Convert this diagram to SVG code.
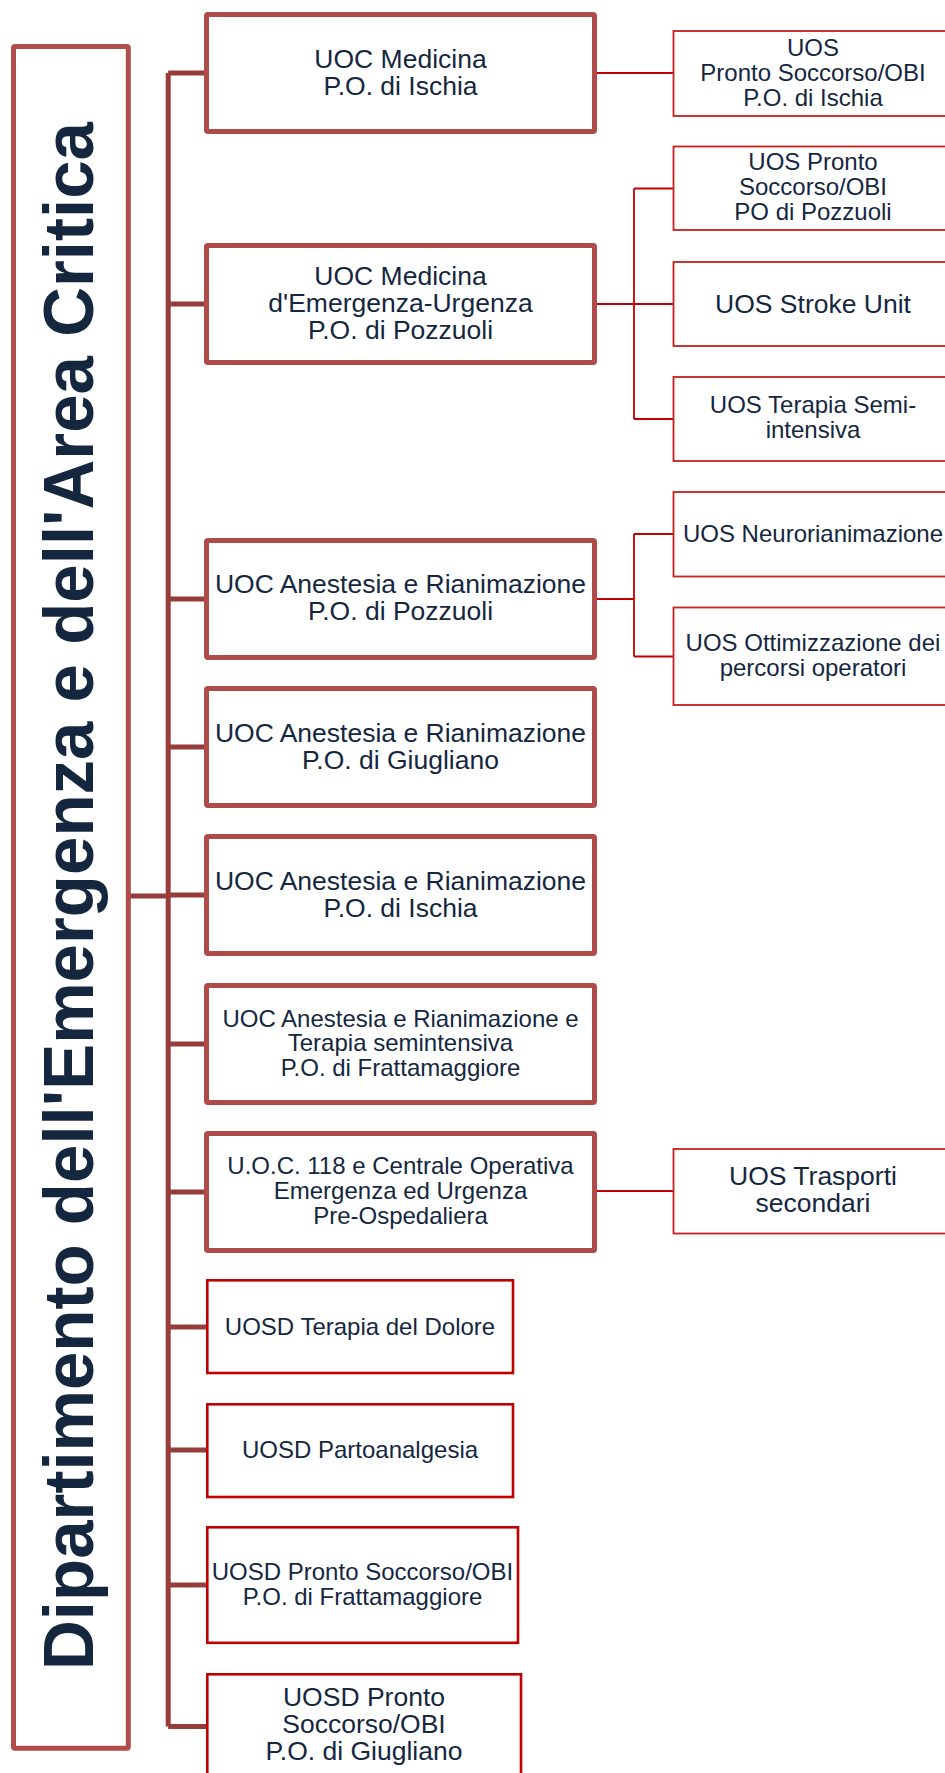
<svg xmlns="http://www.w3.org/2000/svg" width="945" height="1773" viewBox="0 0 945 1773">
<style>
text{font-family:"Liberation Sans",Arial,sans-serif;fill:#15273F;text-anchor:middle}
.t26{font-size:26.5px}
.t24{font-size:24px}
.title{font-size:71px;font-weight:bold}
.main{fill:#fff;stroke:#AF4B48;stroke-width:5}
.tbox{fill:#fff;stroke:#B04C4A;stroke-width:5}
.sub{fill:#fff;stroke:#C8201F;stroke-width:1.8}
.uosd{fill:#fff;stroke:#C00000;stroke-width:2.6}
.trunk{fill:none;stroke:#963C3A;stroke-width:5}
.link{fill:none;stroke:#C00000;stroke-width:1.8}
</style>
<rect width="945" height="1773" fill="#fff"/>
<g id="connectors">
<path class="trunk" d="M168.2 73 V1726.5 M168.2 73 H206 M168.2 304 H206 M168.2 599 H206 M168.2 747 H206 M168.2 895 H206 M168.2 1044 H206 M168.2 1192 H206 M168.2 1327 H207 M168.2 1450 H207 M168.2 1585 H207 M168.2 1726.5 H207 M130 896 H168.2"/>
<path class="link" d="M597 73 H673 M597 304 H634 M634 188.5 V419 M634 188.5 H673 M634 304 H673 M634 419 H673 M597 599 H634 M634 534 V656.5 M634 534 H673 M634 656.5 H673 M597 1191 H673"/>
</g>
<g id="title">
<rect class="tbox" x="13.5" y="46.5" width="114.8" height="1701.8" rx="1.5"/>
<text class="title" transform="translate(93 896) rotate(-90)" textLength="1548" lengthAdjust="spacingAndGlyphs">Dipartimento dell'Emergenza e dell'Area Critica</text>
</g>
<g id="uoc-medicina-ischia">
<rect class="main" x="206.5" y="14.5" width="388" height="117" rx="1.5"/>
<text class="t26" x="400.5" y="67.7">UOC Medicina</text>
<text class="t26" x="400.5" y="95">P.O. di Ischia</text>
</g>
<g id="uoc-medicina-pozzuoli">
<rect class="main" x="206.5" y="245.5" width="388" height="117" rx="1.5"/>
<text class="t26" x="400.5" y="285">UOC Medicina</text>
<text class="t26" x="400.5" y="312">d'Emergenza-Urgenza</text>
<text class="t26" x="400.5" y="339.3">P.O. di Pozzuoli</text>
</g>
<g id="uoc-anestesia-pozzuoli">
<rect class="main" x="206.5" y="540.5" width="388" height="117" rx="1.5"/>
<text class="t26" x="400.5" y="593.3">UOC Anestesia e Rianimazione</text>
<text class="t26" x="400.5" y="620.3">P.O. di Pozzuoli</text>
</g>
<g id="uoc-anestesia-giugliano">
<rect class="main" x="206.5" y="688.5" width="388" height="117" rx="1.5"/>
<text class="t26" x="400.5" y="741.7">UOC Anestesia e Rianimazione</text>
<text class="t26" x="400.5" y="768.5">P.O. di Giugliano</text>
</g>
<g id="uoc-anestesia-ischia">
<rect class="main" x="206.5" y="836.5" width="388" height="117" rx="1.5"/>
<text class="t26" x="400.5" y="890">UOC Anestesia e Rianimazione</text>
<text class="t26" x="400.5" y="917">P.O. di Ischia</text>
</g>
<g id="uoc-anestesia-frattamaggiore">
<rect class="main" x="206.5" y="985.5" width="388" height="117" rx="1.5"/>
<text class="t24" x="400.5" y="1026.7">UOC Anestesia e Rianimazione e</text>
<text class="t24" x="400.5" y="1051.3">Terapia semintensiva</text>
<text class="t24" x="400.5" y="1076">P.O. di Frattamaggiore</text>
</g>
<g id="uoc-118">
<rect class="main" x="206.5" y="1133.5" width="388" height="117" rx="1.5"/>
<text class="t24" x="400.5" y="1174">U.O.C. 118 e Centrale Operativa</text>
<text class="t24" x="400.5" y="1199">Emergenza ed Urgenza</text>
<text class="t24" x="400.5" y="1224">Pre-Ospedaliera</text>
</g>
<g id="uos-ps-ischia">
<rect class="sub" x="673.5" y="31" width="290" height="85"/>
<text class="t24" x="813" y="56">UOS</text>
<text class="t24" x="813" y="81">Pronto Soccorso/OBI</text>
<text class="t24" x="813" y="105.7">P.O. di Ischia</text>
</g>
<g id="uos-ps-pozzuoli">
<rect class="sub" x="673.5" y="146.5" width="290" height="83.5"/>
<text class="t24" x="813" y="170">UOS Pronto</text>
<text class="t24" x="813" y="195">Soccorso/OBI</text>
<text class="t24" x="813" y="220">PO di Pozzuoli</text>
</g>
<g id="uos-stroke">
<rect class="sub" x="673.5" y="262" width="290" height="84"/>
<text class="t26" x="813" y="313">UOS Stroke Unit</text>
</g>
<g id="uos-semi">
<rect class="sub" x="673.5" y="377" width="290" height="84"/>
<text class="t24" x="813" y="412.5">UOS Terapia Semi-</text>
<text class="t24" x="813" y="437.5">intensiva</text>
</g>
<g id="uos-neuro">
<rect class="sub" x="673.5" y="492" width="290" height="84.5"/>
<text class="t24" x="813" y="542.3">UOS Neurorianimazione</text>
</g>
<g id="uos-ottimizzazione">
<rect class="sub" x="673.5" y="607.5" width="290" height="97.5"/>
<text class="t24" x="813" y="651">UOS Ottimizzazione dei</text>
<text class="t24" x="813" y="675.5">percorsi operatori</text>
</g>
<g id="uos-trasporti">
<rect class="sub" x="673.5" y="1149" width="290" height="84.5"/>
<text class="t26" x="813" y="1185">UOS Trasporti</text>
<text class="t26" x="813" y="1212.3">secondari</text>
</g>
<g id="uosd-dolore">
<rect class="uosd" x="207.3" y="1280.3" width="305.7" height="92.7"/>
<text class="t24" x="360" y="1335">UOSD Terapia del Dolore</text>
</g>
<g id="uosd-parto">
<rect class="uosd" x="207.3" y="1404.3" width="305.7" height="92.7"/>
<text class="t24" x="360" y="1458">UOSD Partoanalgesia</text>
</g>
<g id="uosd-ps-frattamaggiore">
<rect class="uosd" x="207.3" y="1527.3" width="310.7" height="115.5"/>
<text class="t24" x="362.5" y="1580">UOSD Pronto Soccorso/OBI</text>
<text class="t24" x="362.5" y="1605">P.O. di Frattamaggiore</text>
</g>
<g id="uosd-ps-giugliano">
<rect class="uosd" x="207.3" y="1674.3" width="313.7" height="120"/>
<text class="t26" x="364" y="1706">UOSD Pronto</text>
<text class="t26" x="364" y="1733">Soccorso/OBI</text>
<text class="t26" x="364" y="1760">P.O. di Giugliano</text>
</g>
</svg>
